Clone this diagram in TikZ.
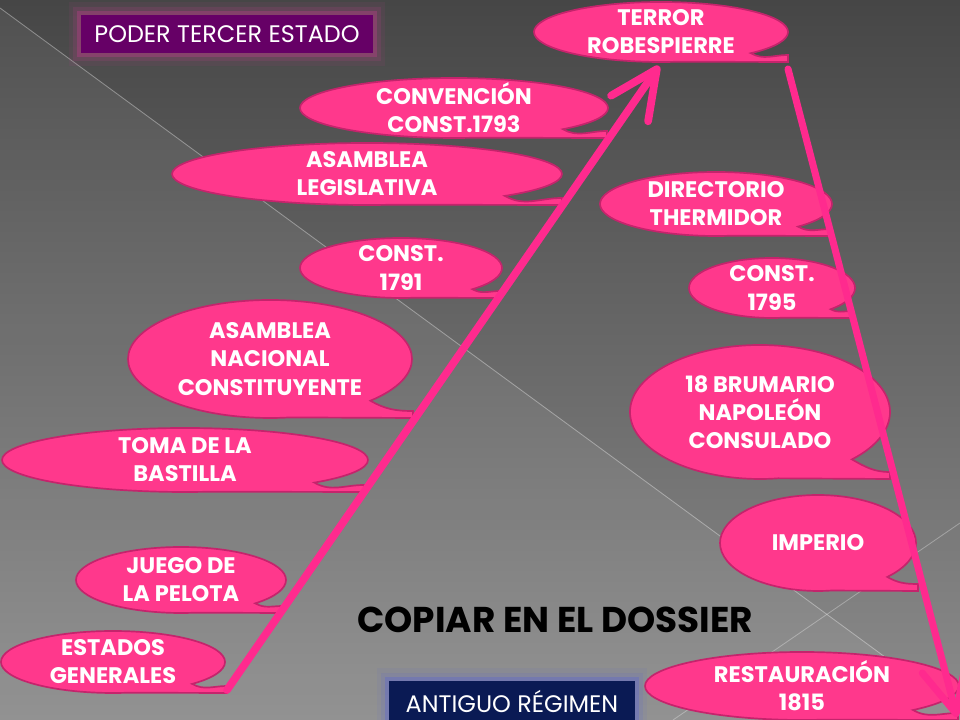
\documentclass[tikz,border=0pt]{standalone}
\usepackage{fontspec}
\setmainfont{Poppins}
\usepackage{tikz}
\usetikzlibrary{arrows.meta}
\definecolor{rosa}{RGB}{255,56,140}
\definecolor{borde}{RGB}{196,36,108}
\definecolor{linea}{RGB}{255,42,142}
\definecolor{morado}{RGB}{102,0,102}
\definecolor{marino}{RGB}{10,26,84}
\definecolor{brillorosa}{RGB}{210,60,150}
\definecolor{brilloazul}{RGB}{90,100,210}
\definecolor{fondoA}{RGB}{70,70,70}
\definecolor{fondoB}{RGB}{140,140,140}
\tikzstyle{globo}=[fill=rosa, draw=borde, line width=1.2pt]
\tikzstyle{texto}=[text=white, align=center, inner sep=0pt, font=\fontsize{16}{20}\selectfont\bfseries]
\tikzstyle{flecha}=[draw=linea, line width=5.5pt, line cap=round, -{Straight Barb[length=34pt,width=32pt,round]}]
\tikzstyle{rotulo}=[text=white, inner sep=0pt, font=\fontsize{17}{20}\selectfont]
% globo con cola: nombre, cx, cy, rx, ry, x de la cola, texto
\newcommand{\globo}[7]{%
  \path[globo] (#2,#3) ++(-45:#4 and #5) coordinate (#1-t)
    arc[start angle=-45, end angle=278, x radius=#4, y radius=#5]
    -- ({#6},{#3-#5}) -- ({#6},{#3-#5+7}) to[out=180,in=-30] (#1-t) -- cycle;
  \node[texto] (#1) at (#2,#3) {#7};
}

\begin{document}
\begin{tikzpicture}[x=0.025cm,y=0.025cm]
\useasboundingbox (0,0) rectangle (960,720);
\clip (0,0) rectangle (960,720);
% fondo
\shade[top color=fondoA, bottom color=fondoB] (0,0) rectangle (960,720);
\fill[white,opacity=.06] (0,712) -- (960,8) -- (960,0) -- (0,0) -- cycle;
\draw[white,opacity=.35,line width=.6pt] (0,712) -- (960,8);
\draw[white,opacity=.3,line width=.6pt] (960,197) -- (673,0);

% rotulos
\node[rotulo, fill=morado, minimum width=7.28cm, minimum height=0.95cm,
  preaction={draw=brillorosa, line width=18pt, draw opacity=.08, rounded corners=6pt},
  preaction={draw=brillorosa, line width=12pt, draw opacity=.14, rounded corners=4pt},
  preaction={draw=brillorosa, line width=6pt, draw opacity=.3}]
  (poder) at (227,686) {PODER TERCER ESTADO};
\node[rotulo, fill=marino, minimum width=6.13cm, minimum height=1.1cm, text depth=0pt,
  preaction={draw=brilloazul, line width=18pt, draw opacity=.08, rounded corners=6pt},
  preaction={draw=brilloazul, line width=12pt, draw opacity=.14, rounded corners=4pt},
  preaction={draw=brilloazul, line width=6pt, draw opacity=.35}]
  (antiguo) at (512,17) {\raisebox{2.5pt}{ANTIGUO RÉGIMEN}};
\node[font=\fontsize{25.5}{30}\selectfont\bfseries, text=black] (copiar) at (555,100) {COPIAR EN EL DOSSIER};

% globos
\globo{terror}{661}{688}{127}{30}{788}{TERROR\\ROBESPIERRE}
\globo{convencion}{454}{612}{154}{30}{607}{CONVENCIÓN\\CONST.1793}
\globo{legislativa}{367}{546}{195}{31}{562}{ASAMBLEA\\LEGISLATIVA}
\globo{const91}{401}{452}{101}{30}{500}{CONST.\\1791}
\globo{nacional}{270}{361}{142}{59}{413}{ASAMBLEA\\NACIONAL\\CONSTITUYENTE}
\globo{bastilla}{185}{260}{183}{32}{364}{TOMA DE LA\\BASTILLA}
\globo{pelota}{181}{140}{105}{33}{283}{JUEGO DE\\LA PELOTA}
\globo{estados}{113}{58}{112}{31}{227}{ESTADOS\\GENERALES}
\globo{directorio}{716}{516}{116}{32}{831}{DIRECTORIO\\THERMIDOR}
\globo{const95}{772}{432}{83}{30}{852}{CONST.\\1795}
\globo{brumario}{760}{308}{130}{67}{890}{18 BRUMARIO\\NAPOLEÓN\\CONSULADO}
\globo{imperio}{818}{177}{98}{48}{918}{IMPERIO}
\globo{restauracion}{802}{34}{157}{34}{958}{RESTAURACIÓN\\1815}

% flechas
\coordinate (ini) at (227,30);
\coordinate (cima) at (659,654);
\coordinate (robes) at (788,651);
\coordinate (fin) at (957,3);
\draw[flecha] (ini) -- (cima);
\draw[flecha, line width=5pt] (robes) -- (fin);
\end{tikzpicture}
\end{document}
